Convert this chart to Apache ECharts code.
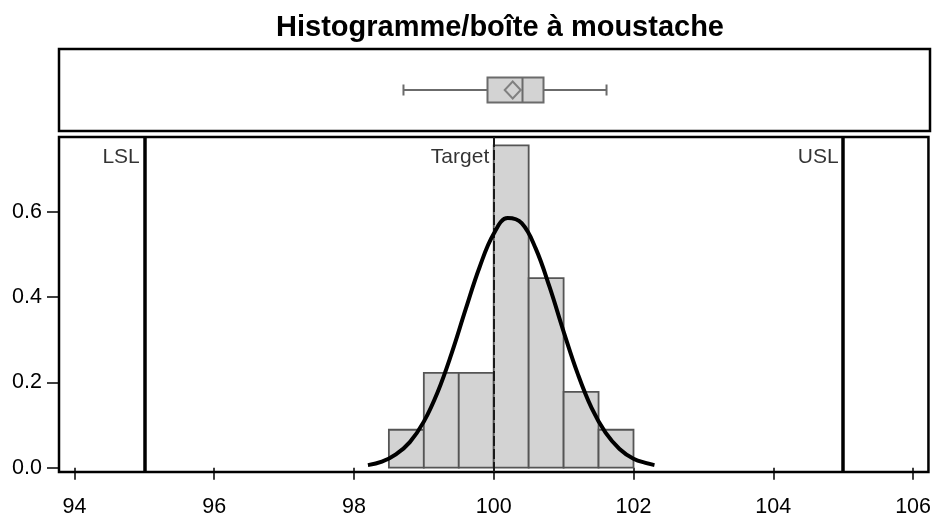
<!DOCTYPE html>
<html><head><meta charset="utf-8">
<script src="https://cdn.jsdelivr.net/npm/echarts@6/dist/echarts.min.js"></script>
<style>html,body{margin:0;padding:0;background:#fff}#c{width:934px;height:519px}</style>
</head><body><div id="c"></div>
<script>
// ---- data ----
const titleText = 'Histogramme/boîte à moustache';
const binStarts = [98.5, 99.0, 99.5, 100.0, 100.5, 101.0, 101.5];
const binEnds   = [99.0, 99.5, 100.0, 100.5, 101.0, 101.5, 102.0];
const binDensity = [0.0889, 0.2222, 0.2222, 0.7556, 0.4444, 0.1778, 0.0889];
const curveX = [98.2, 98.4, 98.6, 98.8, 99.0, 99.2, 99.4, 99.6, 99.8, 100.0, 100.2, 100.4, 100.6, 100.8, 101.0, 101.2, 101.4, 101.6, 101.8, 102.0, 102.2, 102.3];
const curveY = [0.006, 0.014, 0.031, 0.060, 0.108, 0.178, 0.269, 0.372, 0.471, 0.548, 0.585, 0.573, 0.514, 0.423, 0.319, 0.221, 0.140, 0.082, 0.044, 0.021, 0.010, 0.006];
const boxStats = [98.7, 99.9, 100.4, 100.7, 101.6]; // min, q1, median, q3, max
const meanValue = 100.26;
const specNames = ['LSL', 'Target', 'USL'];
const specValues = [95, 100, 105];
const xTicks = [94, 96, 98, 100, 102, 104, 106];
const yTicks = [0, 0.2, 0.4, 0.6];
const xMin = 93.78, xMax = 106.22;
const yMin = -0.0101, yMax = 0.775;
const specLabelY = 0.727;

const FONT = 'Liberation Sans, Arial, sans-serif';
const chart = echarts.init(document.getElementById('c'), null, {renderer: 'canvas'});

const histData = binStarts.map((s, i) => [s, binEnds[i], binDensity[i]]);
const curveData = curveX.map((x, i) => [x, curveY[i]]);

function specLine(i, style) {
  return {
    type: 'line', xAxisIndex: 1, yAxisIndex: 1, data: [], silent: true,
    markLine: {
      silent: true, symbol: 'none', animation: false,
      label: {show: false},
      lineStyle: style,
      data: [{xAxis: specValues[i]}]
    },
    z: 6
  };
}

const option = {
  animation: false,
  backgroundColor: '#fff',
  title: {
    text: titleText, left: 495, top: 8, textAlign: 'center',
    textStyle: {fontFamily: FONT, fontWeight: 'bold', fontSize: 29, color: '#000'}
  },
  grid: [
    {left: 59, right: 4, top: 49, height: 82, show: true, borderColor: '#000', borderWidth: 2.5, backgroundColor: '#fff'},
    {left: 59, right: 4, top: 137, height: 335, show: true, borderColor: '#000', borderWidth: 2.5, backgroundColor: '#fff'}
  ],
  xAxis: [
    {type: 'value', gridIndex: 0, min: xMin, max: xMax, show: false},
    {type: 'value', gridIndex: 1, min: xMin, max: xMax,
      axisLine: {show: false},
      splitLine: {show: false},
      axisTick: {show: true, length: 12, lineStyle: {color: '#000', width: 1.5}, customValues: xTicks},
      axisLabel: {show: true, customValues: xTicks, margin: 24, fontFamily: FONT, fontSize: 21.5, color: '#000'}
    }
  ],
  yAxis: [
    {type: 'category', gridIndex: 0, data: ['box'], show: false},
    {type: 'value', gridIndex: 1, min: yMin, max: yMax,
      axisLine: {show: false},
      splitLine: {show: false},
      axisTick: {show: true, length: 12, lineStyle: {color: '#000', width: 1.5}, customValues: yTicks},
      axisLabel: {show: true, customValues: yTicks, margin: 17, fontFamily: FONT, fontSize: 21.5, color: '#000',
        formatter: v => Number(v).toFixed(1)}
    }
  ],
  series: [
    // box plot (top panel)
    {
      type: 'custom', xAxisIndex: 0, yAxisIndex: 0,
      data: [[0].concat(boxStats)],
      encode: {y: 0, x: [1, 2, 3, 4, 5]},
      renderItem: function (params, api) {
        const vmin = api.value(1), q1 = api.value(2), med = api.value(3), q3 = api.value(4), vmax = api.value(5);
        const cy = api.coord([vmin, 0])[1];
        const xMinP = api.coord([vmin, 0])[0], xQ1 = api.coord([q1, 0])[0], xMed = api.coord([med, 0])[0];
        const xQ3 = api.coord([q3, 0])[0], xMaxP = api.coord([vmax, 0])[0];
        const hb = 12.5, hc = 5.5;
        const st = {stroke: '#6b6b6b', lineWidth: 2, fill: null};
        return {type: 'group', children: [
          {type: 'line', shape: {x1: xMinP, y1: cy, x2: xQ1, y2: cy}, style: st},
          {type: 'line', shape: {x1: xQ3, y1: cy, x2: xMaxP, y2: cy}, style: st},
          {type: 'line', shape: {x1: xMinP, y1: cy - hc, x2: xMinP, y2: cy + hc}, style: st},
          {type: 'line', shape: {x1: xMaxP, y1: cy - hc, x2: xMaxP, y2: cy + hc}, style: st},
          {type: 'rect', shape: {x: xQ1, y: cy - hb, width: xQ3 - xQ1, height: 2 * hb}, style: {fill: '#d3d3d3', stroke: '#6b6b6b', lineWidth: 2}},
          {type: 'line', shape: {x1: xMed, y1: cy - hb, x2: xMed, y2: cy + hb}, style: st}
        ]};
      },
      z: 3
    },
    {
      type: 'scatter', xAxisIndex: 0, yAxisIndex: 0,
      data: [[meanValue, 0]],
      symbol: 'diamond', symbolSize: [16, 17],
      itemStyle: {color: 'rgba(0,0,0,0)', borderColor: '#6b6b6b', borderWidth: 2},
      z: 4
    },
    // histogram
    {
      type: 'custom', xAxisIndex: 1, yAxisIndex: 1,
      data: histData,
      encode: {x: [0, 1], y: 2},
      renderItem: function (params, api) {
        const p0 = api.coord([api.value(0), api.value(2)]);
        const p1 = api.coord([api.value(1), 0]);
        return {type: 'rect', shape: {x: p0[0], y: p0[1], width: p1[0] - p0[0], height: p1[1] - p0[1]},
          style: {fill: '#d3d3d3', stroke: '#555', lineWidth: 1.8}};
      },
      z: 2
    },
    // normal curve
    {
      type: 'line', xAxisIndex: 1, yAxisIndex: 1,
      data: curveData, smooth: 0.4, showSymbol: false, symbol: 'none',
      lineStyle: {color: '#000', width: 4},
      z: 5
    },
    specLine(0, {color: '#000', width: 3.5, type: 'solid'}),
    specLine(1, {color: '#1a1a1a', width: 2, type: [10, 3]}),
    specLine(2, {color: '#000', width: 3.5, type: 'solid'}),
    // spec labels
    {
      type: 'scatter', xAxisIndex: 1, yAxisIndex: 1,
      data: specValues.map((v, i) => ({value: [v, specLabelY], name: specNames[i]})),
      symbol: 'rect', symbolSize: 1,
      itemStyle: {color: 'rgba(0,0,0,0)'},
      label: {show: true, position: 'left', distance: 4, formatter: p => p.name,
        fontFamily: FONT, fontSize: 21, color: '#000'},
      z: 7
    }
  ]
};
chart.setOption(option);
</script>
</body></html>
